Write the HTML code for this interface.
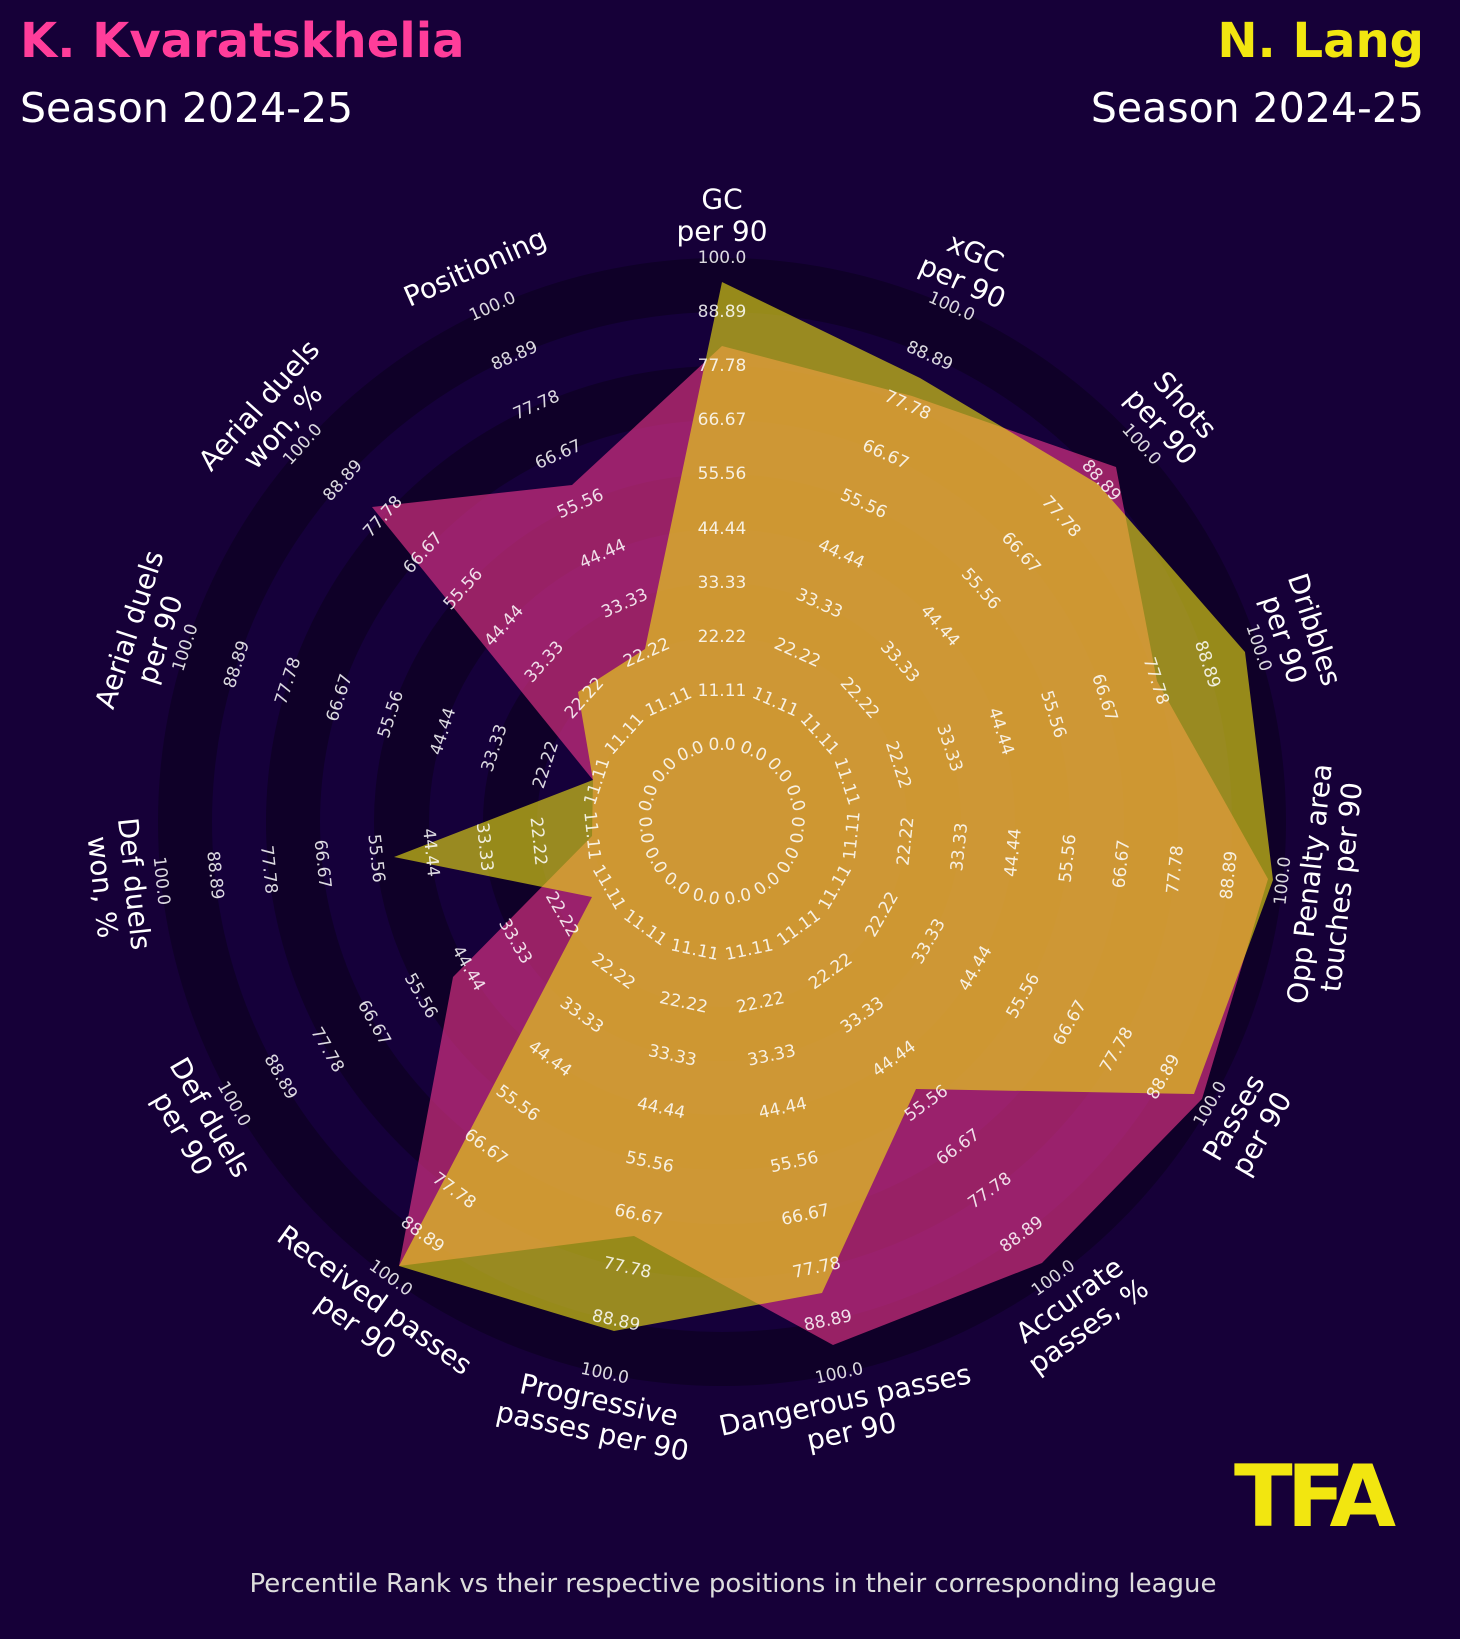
<!DOCTYPE html>
<html><head><meta charset="utf-8">
<style>
html,body{margin:0;padding:0;background:#160038;}
svg{display:block}
.t{font-family:"DejaVu Sans","Liberation Sans",sans-serif;font-size:17px;fill:#fff;fill-opacity:.85;text-anchor:middle;dominant-baseline:central}
.l{font-family:"DejaVu Sans","Liberation Sans",sans-serif;font-size:28px;fill:#fff;text-anchor:middle;dominant-baseline:central}
</style></head><body>
<svg width="1460" height="1639" viewBox="0 0 1460 1639" xmlns="http://www.w3.org/2000/svg">
<rect width="1460" height="1639" fill="#160038"/>
<text x="20" y="57" font-family="DejaVu Sans, Liberation Sans, sans-serif" font-weight="bold" font-size="48" fill="#ff3d9a">K. Kvaratskhelia</text>
<text x="20" y="122" font-family="DejaVu Sans, Liberation Sans, sans-serif" font-size="41" fill="#fff">Season 2024-25</text>
<text x="1424" y="57" text-anchor="end" font-family="DejaVu Sans, Liberation Sans, sans-serif" font-weight="bold" font-size="48" fill="#f2e610">N. Lang</text>
<text x="1424" y="122" text-anchor="end" font-family="DejaVu Sans, Liberation Sans, sans-serif" font-size="41" fill="#fff">Season 2024-25</text>
<!-- rings -->
<circle cx="722" cy="822" r="564" fill="#0f0028"/>
<circle cx="722" cy="822" r="510" fill="#15003a"/>
<circle cx="722" cy="822" r="456" fill="#0f0028"/>
<circle cx="722" cy="822" r="402" fill="#15003a"/>
<circle cx="722" cy="822" r="348" fill="#0f0028"/>
<circle cx="722" cy="822" r="293" fill="#15003a"/>
<circle cx="722" cy="822" r="239" fill="#0f0028"/>
<circle cx="722" cy="822" r="185" fill="#15003a"/>
<circle cx="722" cy="822" r="131" fill="#0f0028"/>
<circle cx="722" cy="822" r="77" fill="#15003a"/>
<!-- polygons -->
<polygon fill="#f4378d" fill-opacity="0.6" points="722,346 912,396 1116,467 1157,681 1268,879 1202,1099 1042,1263 833,1345 634,1236 399,1266 453,977 592,836 593,780 372,507 572,485"/>
<polygon fill="#f2e610" fill-opacity="0.6" points="722,282 920,378 1098,484 1245,652 1273,880 1194,1094 916,1089 822,1293 614,1331 399,1266 592,897 394,857 593,780 578,692 645,649"/>
<!-- top axes -->
<g transform="rotate(0 722 822)"><text class="t" x="722" y="745">0.0</text><text class="t" x="722" y="691">11.11</text><text class="t" x="722" y="637">22.22</text><text class="t" x="722" y="583">33.33</text><text class="t" x="722" y="529">44.44</text><text class="t" x="722" y="474">55.56</text><text class="t" x="722" y="420">66.67</text><text class="t" x="722" y="366">77.78</text><text class="t" x="722" y="312">88.89</text><text class="t" x="722" y="258">100.0</text><text class="l" x="722" y="199">GC</text><text class="l" x="722" y="231">per 90</text></g>
<g transform="rotate(24 722 822)"><text class="t" x="722" y="745">0.0</text><text class="t" x="722" y="691">11.11</text><text class="t" x="722" y="637">22.22</text><text class="t" x="722" y="583">33.33</text><text class="t" x="722" y="529">44.44</text><text class="t" x="722" y="474">55.56</text><text class="t" x="722" y="420">66.67</text><text class="t" x="722" y="366">77.78</text><text class="t" x="722" y="312">88.89</text><text class="t" x="722" y="258">100.0</text><text class="l" x="722" y="199">xGC</text><text class="l" x="722" y="231">per 90</text></g>
<g transform="rotate(48 722 822)"><text class="t" x="722" y="745">0.0</text><text class="t" x="722" y="691">11.11</text><text class="t" x="722" y="637">22.22</text><text class="t" x="722" y="583">33.33</text><text class="t" x="722" y="529">44.44</text><text class="t" x="722" y="474">55.56</text><text class="t" x="722" y="420">66.67</text><text class="t" x="722" y="366">77.78</text><text class="t" x="722" y="312">88.89</text><text class="t" x="722" y="258">100.0</text><text class="l" x="722" y="199">Shots</text><text class="l" x="722" y="231">per 90</text></g>
<g transform="rotate(72 722 822)"><text class="t" x="722" y="745">0.0</text><text class="t" x="722" y="691">11.11</text><text class="t" x="722" y="637">22.22</text><text class="t" x="722" y="583">33.33</text><text class="t" x="722" y="529">44.44</text><text class="t" x="722" y="474">55.56</text><text class="t" x="722" y="420">66.67</text><text class="t" x="722" y="366">77.78</text><text class="t" x="722" y="312">88.89</text><text class="t" x="722" y="258">100.0</text><text class="l" x="722" y="199">Dribbles</text><text class="l" x="722" y="231">per 90</text></g>
<g transform="rotate(288 722 822)"><text class="t" x="722" y="745">0.0</text><text class="t" x="722" y="691">11.11</text><text class="t" x="722" y="637">22.22</text><text class="t" x="722" y="583">33.33</text><text class="t" x="722" y="529">44.44</text><text class="t" x="722" y="474">55.56</text><text class="t" x="722" y="420">66.67</text><text class="t" x="722" y="366">77.78</text><text class="t" x="722" y="312">88.89</text><text class="t" x="722" y="258">100.0</text><text class="l" x="722" y="199">Aerial duels</text><text class="l" x="722" y="231">per 90</text></g>
<g transform="rotate(312 722 822)"><text class="t" x="722" y="745">0.0</text><text class="t" x="722" y="691">11.11</text><text class="t" x="722" y="637">22.22</text><text class="t" x="722" y="583">33.33</text><text class="t" x="722" y="529">44.44</text><text class="t" x="722" y="474">55.56</text><text class="t" x="722" y="420">66.67</text><text class="t" x="722" y="366">77.78</text><text class="t" x="722" y="312">88.89</text><text class="t" x="722" y="258">100.0</text><text class="l" x="722" y="199">Aerial duels</text><text class="l" x="722" y="231">won, %</text></g>
<g transform="rotate(336 722 822)"><text class="t" x="722" y="745">0.0</text><text class="t" x="722" y="691">11.11</text><text class="t" x="722" y="637">22.22</text><text class="t" x="722" y="583">33.33</text><text class="t" x="722" y="529">44.44</text><text class="t" x="722" y="474">55.56</text><text class="t" x="722" y="420">66.67</text><text class="t" x="722" y="366">77.78</text><text class="t" x="722" y="312">88.89</text><text class="t" x="722" y="258">100.0</text><text class="l" x="722" y="215">Positioning</text></g>
<!-- bottom axes -->
<g transform="rotate(-84 722 822)"><text class="t" x="722" y="899">0.0</text><text class="t" x="722" y="953">11.11</text><text class="t" x="722" y="1007">22.22</text><text class="t" x="722" y="1061">33.33</text><text class="t" x="722" y="1115">44.44</text><text class="t" x="722" y="1170">55.56</text><text class="t" x="722" y="1224">66.67</text><text class="t" x="722" y="1278">77.78</text><text class="t" x="722" y="1332">88.89</text><text class="t" x="722" y="1386">100.0</text><text class="l" x="722" y="1413">Opp Penalty area</text><text class="l" x="722" y="1445">touches per 90</text></g>
<g transform="rotate(-60 722 822)"><text class="t" x="722" y="899">0.0</text><text class="t" x="722" y="953">11.11</text><text class="t" x="722" y="1007">22.22</text><text class="t" x="722" y="1061">33.33</text><text class="t" x="722" y="1115">44.44</text><text class="t" x="722" y="1170">55.56</text><text class="t" x="722" y="1224">66.67</text><text class="t" x="722" y="1278">77.78</text><text class="t" x="722" y="1332">88.89</text><text class="t" x="722" y="1386">100.0</text><text class="l" x="722" y="1413">Passes</text><text class="l" x="722" y="1445">per 90</text></g>
<g transform="rotate(-36 722 822)"><text class="t" x="722" y="899">0.0</text><text class="t" x="722" y="953">11.11</text><text class="t" x="722" y="1007">22.22</text><text class="t" x="722" y="1061">33.33</text><text class="t" x="722" y="1115">44.44</text><text class="t" x="722" y="1170">55.56</text><text class="t" x="722" y="1224">66.67</text><text class="t" x="722" y="1278">77.78</text><text class="t" x="722" y="1332">88.89</text><text class="t" x="722" y="1386">100.0</text><text class="l" x="722" y="1413">Accurate</text><text class="l" x="722" y="1445">passes, %</text></g>
<g transform="rotate(-12 722 822)"><text class="t" x="722" y="899">0.0</text><text class="t" x="722" y="953">11.11</text><text class="t" x="722" y="1007">22.22</text><text class="t" x="722" y="1061">33.33</text><text class="t" x="722" y="1115">44.44</text><text class="t" x="722" y="1170">55.56</text><text class="t" x="722" y="1224">66.67</text><text class="t" x="722" y="1278">77.78</text><text class="t" x="722" y="1332">88.89</text><text class="t" x="722" y="1386">100.0</text><text class="l" x="722" y="1413">Dangerous passes</text><text class="l" x="722" y="1445">per 90</text></g>
<g transform="rotate(12 722 822)"><text class="t" x="722" y="899">0.0</text><text class="t" x="722" y="953">11.11</text><text class="t" x="722" y="1007">22.22</text><text class="t" x="722" y="1061">33.33</text><text class="t" x="722" y="1115">44.44</text><text class="t" x="722" y="1170">55.56</text><text class="t" x="722" y="1224">66.67</text><text class="t" x="722" y="1278">77.78</text><text class="t" x="722" y="1332">88.89</text><text class="t" x="722" y="1386">100.0</text><text class="l" x="722" y="1413">Progressive</text><text class="l" x="722" y="1445">passes per 90</text></g>
<g transform="rotate(36 722 822)"><text class="t" x="722" y="899">0.0</text><text class="t" x="722" y="953">11.11</text><text class="t" x="722" y="1007">22.22</text><text class="t" x="722" y="1061">33.33</text><text class="t" x="722" y="1115">44.44</text><text class="t" x="722" y="1170">55.56</text><text class="t" x="722" y="1224">66.67</text><text class="t" x="722" y="1278">77.78</text><text class="t" x="722" y="1332">88.89</text><text class="t" x="722" y="1386">100.0</text><text class="l" x="722" y="1413">Received passes</text><text class="l" x="722" y="1445">per 90</text></g>
<g transform="rotate(60 722 822)"><text class="t" x="722" y="899">0.0</text><text class="t" x="722" y="953">11.11</text><text class="t" x="722" y="1007">22.22</text><text class="t" x="722" y="1061">33.33</text><text class="t" x="722" y="1115">44.44</text><text class="t" x="722" y="1170">55.56</text><text class="t" x="722" y="1224">66.67</text><text class="t" x="722" y="1278">77.78</text><text class="t" x="722" y="1332">88.89</text><text class="t" x="722" y="1386">100.0</text><text class="l" x="722" y="1413">Def duels</text><text class="l" x="722" y="1445">per 90</text></g>
<g transform="rotate(84 722 822)"><text class="t" x="722" y="899">0.0</text><text class="t" x="722" y="953">11.11</text><text class="t" x="722" y="1007">22.22</text><text class="t" x="722" y="1061">33.33</text><text class="t" x="722" y="1115">44.44</text><text class="t" x="722" y="1170">55.56</text><text class="t" x="722" y="1224">66.67</text><text class="t" x="722" y="1278">77.78</text><text class="t" x="722" y="1332">88.89</text><text class="t" x="722" y="1386">100.0</text><text class="l" x="722" y="1413">Def duels</text><text class="l" x="722" y="1445">won, %</text></g>
<!-- logo -->
<text x="1312" y="1526" text-anchor="middle" font-family="DejaVu Sans, Liberation Sans, sans-serif" font-weight="bold" font-size="86" fill="#f2e610" letter-spacing="-6">TFA</text>
<text x="733" y="1592" text-anchor="middle" font-family="DejaVu Sans, Liberation Sans, sans-serif" font-size="26" fill="#ddd">Percentile Rank vs their respective positions in their corresponding league</text>
</svg>
</body></html>
